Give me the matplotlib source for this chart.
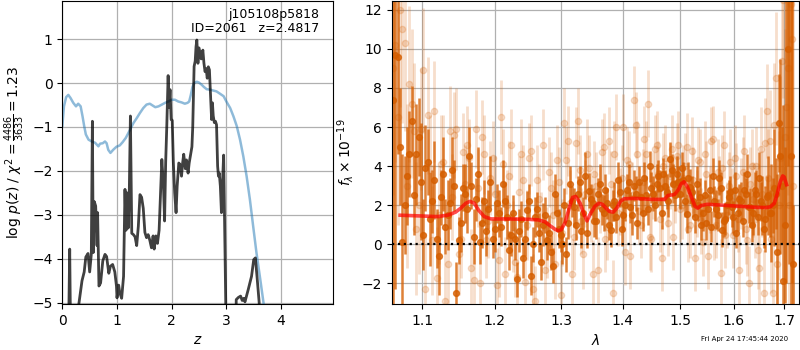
import numpy as np
import matplotlib
matplotlib.use("Agg")
import matplotlib.pyplot as plt
from matplotlib.ticker import NullLocator, FixedLocator, FixedFormatter

# ---------------- data: left panel (redshift PDF) ----------------
z_pdf = [0.00, 0.10, 0.115, 0.135, 0.15, 0.16, 0.28, 0.30, 0.36, 0.40, 0.43, 0.47,
         0.50, 0.53, 0.55, 0.565, 0.585, 0.61, 0.635, 0.645, 0.67, 0.70, 0.74, 0.78,
         0.81, 0.85, 0.88, 0.92, 0.96, 0.99, 1.00, 1.03, 1.05, 1.085, 1.12, 1.146,
         1.165, 1.185, 1.205, 1.225, 1.245, 1.27, 1.30, 1.33, 1.36, 1.39, 1.42, 1.45,
         1.48, 1.51, 1.54, 1.57, 1.60, 1.63, 1.66, 1.68, 1.71, 1.74, 1.77, 1.80, 1.82,
         1.85, 1.87, 1.89, 1.91, 1.935, 1.95, 1.97, 1.99, 2.01, 2.03, 2.055, 2.08,
         2.10, 2.13, 2.15, 2.18, 2.20, 2.22, 2.25, 2.27, 2.30, 2.32, 2.35, 2.37, 2.385,
         2.41, 2.43, 2.445, 2.46, 2.48, 2.50, 2.52, 2.54, 2.57, 2.59, 2.61, 2.63, 2.65,
         2.67, 2.69, 2.71, 2.73, 2.745, 2.76, 2.78, 2.80, 2.82, 2.84, 2.855, 2.87, 2.89,
         2.91, 2.93, 2.95, 2.965, 2.98, 3.00, 3.02, 3.16, 3.18, 3.22, 3.26, 3.29, 3.32,
         3.34, 3.40, 3.46, 3.50, 3.53, 3.56, 3.60, 3.62, 4.95]
logp_pdf = [-8, -8, -5.6, -3.78, -5.6, -8, -8, -5.05, -4.5, -4.3, -3.96, -3.88,
            -4.3, -3.9, -0.87, -3.86, -2.7, -2.8, -3.7, -2.95, -4.62, -4.55, -4.05, -3.9,
            -3.95, -4.33, -4.17, -4.13, -4.3, -4.62, -4.89, -4.6, -4.77, -4.9, -4.4, -2.42,
            -3.35, -2.5, -3.3, -2.45, -0.75, -3.42, -3.45, -3.5, -3.7, -3.26, -2.54, -2.6,
            -2.85, -3.4, -3.52, -3.45, -3.58, -3.75, -3.48, -3.78, -3.48, -3.65, -3.35,
            -2.35, -1.74, -2.35, -3.14, -1.8, -1.0, 0.17, -0.55, -0.15, -0.83, -0.85,
            -1.8, -2.5, -2.95, -2.35, -1.82, -1.85, -2.12, -1.82, -1.62, -1.95, -1.75,
            -2.05, -1.82, -1.6, -1.45, -1.0, 0.38, 0.5, 0.83, 0.98, 0.45, 0.8, 0.68,
            0.55, 0.75, 0.45, 0.26, 0.33, 0.11, 0.37, 0.3, -0.25, -0.83, -0.45, -0.75,
            -0.9, -0.87, -0.95, -1.89, -2.12, -2.05, -2.35, -2.95, -2.25, -1.64, -2.9,
            -4.2, -6.0, -8, -8, -4.93, -4.88, -4.85, -4.95, -4.9, -4.98, -4.7, -4.4,
            -4.02, -3.98, -4.4, -5.0, -8, -8]

z_chi = [0.00, 0.03, 0.07, 0.11, 0.15, 0.20, 0.25, 0.29, 0.335, 0.37, 0.40, 0.43,
         0.48, 0.54, 0.60, 0.66, 0.69, 0.74, 0.78, 0.81, 0.84, 0.88, 0.93, 0.99, 1.05,
         1.10, 1.16, 1.24, 1.30, 1.36, 1.42, 1.48, 1.54, 1.60, 1.65, 1.70, 1.76, 1.82,
         1.88, 1.94, 2.00, 2.06, 2.12, 2.18, 2.24, 2.29, 2.32, 2.35, 2.38, 2.41, 2.46,
         2.50, 2.55, 2.59, 2.64, 2.70, 2.76, 2.82, 2.88, 2.95, 3.00, 3.07, 3.13, 3.19,
         3.25, 3.31, 3.37, 3.43, 3.49, 3.55, 3.62, 3.68, 3.80]
logp_chi = [-0.98, -0.53, -0.32, -0.27, -0.34, -0.45, -0.53, -0.47, -0.53, -0.76,
            -0.98, -1.17, -1.29, -1.33, -1.36, -1.44, -1.38, -1.37, -1.33, -1.37, -1.52,
            -1.59, -1.52, -1.45, -1.42, -1.35, -1.25, -1.06, -0.91, -0.80, -0.68, -0.57,
            -0.49, -0.47, -0.51, -0.55, -0.53, -0.49, -0.45, -0.42, -0.38, -0.38, -0.42,
            -0.44, -0.47, -0.45, -0.42, -0.27, -0.09, 0.00, 0.03, 0.01, -0.04, -0.09,
            -0.14, -0.15, -0.17, -0.19, -0.24, -0.30, -0.42, -0.57, -0.76, -0.98, -1.29,
            -1.67, -2.12, -2.65, -3.26, -3.86, -4.47, -5.01, -6.2]

# ---------------- data: right panel (1D spectrum) ----------------
# spectral pixel grids (start, step, count)
dark_a_start, dark_a_step, n_dark_a = 1.062, 0.006, 110
dark_b_start, dark_b_step, n_dark_b = 1.065, 0.006, 110
light_a_start, light_a_step, n_light_a = 1.065, 0.006, 110
light_b_start, light_b_step, n_light_b = 1.062, 0.006, 110

dark_a_flux = [7.4, 9.6, 0.1, 3.5, 6.3, 4.6, 3.2, 3.9, 1.3, 3.3,
               -0.6, 3.6, 1.5, 3.8, -2.5, 1.1, 2.6, 4.5, 0.4, 3.6,
               1.1, 0.7, 3.2, 0.8, 1.6, 3.1, 1.4, 0.5, 0.3, 0.7,
               -0.7, 1.75, -1.6, 1.4, 0.6, 1.0, 0.2, -0.4, 2.6, 0.8,
               0.0, -0.5, 3.1, 1.9, 2.6, 0.7, 3.5, 2.75, 2.1, 1.2,
               3.1, 1.6, 2.1, 0.75, 2.2, 3.3, 0.8, 2.0, 3.2, 1.5,
               2.6, 3.2, 1.6, 2.5, 4.0, 2.6, 3.1, 2.9, 3.6, 2.7,
               4.35, 3.1, 3.6, 2.6, 3.3, 1.57, 2.95, 2.2, 3.1, 2.4,
               1.6, 1.1, 2.8, 3.5, 1.8, 3.4, 0.75, 1.3, 2.4, 1.9,
               2.8, 1.6, 2.2, 2.8, 3.6, 1.9, 1.6, 2.6, 3.4, 2.0,
               1.3, 2.5, 1.6, 2.9, -0.4, 4.5, -1.85, 14.0, 15.0, 14.0]
dark_a_err = [14, 5.0, 4.5, 2.5, 1.8, 2.6, 3.0, 2.2, 2.4, 2.0,
              2.0, 1.9, 1.8, 1.7, 1.6, 1.5, 1.5, 1.5, 1.4, 1.4,
              1.3, 1.3, 1.3, 1.2, 1.2, 1.2, 1.1, 1.1, 1.1, 1.1,
              1.0, 1.0, 1.0, 1.0, 1.0, 1.1, 1.0, 0.9, 1.0, 1.0,
              1.0, 0.9, 0.9, 1.0, 0.9, 0.9, 1.2, 0.9, 0.8, 0.9,
              1.0, 0.9, 0.8, 0.9, 1.0, 0.9, 0.9, 0.8, 0.9, 1.0,
              0.9, 0.8, 0.9, 1.0, 0.8, 0.9, 1.0, 0.9, 0.8, 0.9,
              0.9, 1.0, 0.9, 0.8, 0.9, 1.0, 0.9, 0.8, 0.9, 1.0,
              0.9, 0.9, 0.8, 0.9, 1.0, 0.9, 0.9, 0.8, 0.9, 1.0,
              0.9, 0.9, 1.0, 0.9, 1.0, 1.0, 1.1, 1.2, 1.3, 1.5,
              1.7, 2.0, 2.5, 3.0, 4.0, 5.0, 9.0, 16, 16, 16]

dark_b_flux = [9.7, 5.0, 2.0, 4.6, 2.5, 5.5, 0.5, 4.2, 2.2, 0.3,
               2.4, 0.9, 2.1, 3.0, 0.2, 2.9, 1.8, 3.0, 2.3, 0.1,
               2.2, 1.8, 0.3, 2.1, 0.9, 2.2, -0.3, 1.6, -1.78, 1.3,
               0.3, 2.2, 0.0, 1.8, -0.9, 1.5, 0.6, -1.1, 1.6, 0.5,
               2.0, 1.1, 2.2, 1.0, 3.2, 1.6, 0.6, 2.3, 1.2, 2.6,
               1.8, 2.8, 1.0, 2.0, 1.4, 2.7, 1.5, 2.8, 1.9, 3.0,
               1.1, 2.4, 3.4, 1.8, 2.9, 2.0, 3.5, 1.6, 3.0, 2.2,
               3.8, 2.5, 3.2, 3.9, 2.2, 3.4, 2.7, 1.4, 2.0, 1.0,
               2.5, 1.8, 0.9, 2.2, 1.5, 2.9, 1.2, 2.0, 2.7, 1.4,
               0.6, 2.3, 1.2, 2.6, 1.9, 1.0, 2.8, 1.4, 2.2, 0.8,
               2.4, 1.6, 2.0, 2.6, 6.2, 3.0, 1.0, 10.0, 4.5, -1.0]
dark_b_err = [12, 3.0, 2.5, 2.2, 2.0, 2.0, 1.8, 1.7, 1.6, 1.5,
              1.4, 1.4, 1.3, 1.3, 1.2, 1.2, 1.2, 1.2, 1.1, 1.1,
              1.1, 1.0, 1.0, 1.0, 1.0, 1.0, 1.0, 0.9, 0.9, 0.9,
              0.9, 0.9, 0.9, 0.9, 0.9, 0.9, 0.9, 0.9, 0.9, 0.9,
              0.9, 0.8, 0.8, 0.8, 0.8, 0.8, 0.8, 0.8, 0.8, 0.8,
              0.8, 0.8, 0.8, 0.8, 0.8, 0.8, 0.8, 0.8, 0.8, 0.8,
              0.8, 0.8, 0.8, 0.8, 0.8, 0.8, 0.8, 0.8, 0.8, 0.8,
              0.8, 0.8, 0.8, 0.8, 0.8, 0.8, 0.8, 0.8, 0.8, 0.8,
              0.8, 0.8, 0.8, 0.8, 0.8, 0.8, 0.8, 0.8, 0.8, 0.8,
              0.8, 0.8, 0.8, 0.8, 0.8, 0.9, 0.9, 0.9, 1.0, 1.0,
              1.1, 1.2, 1.4, 1.8, 2.5, 3.0, 4.0, 6.0, 8.0, 3.0]

light_a_flux = [10.2, 12.0, 10.3, 8.2, 5.8, 2.0, 8.9, 6.6, 0.2, -1.7,
                4.1, -2.9, 5.8, 5.6, -0.5, 4.7, 5.1, -1.2, 5.9, -2.0,
                4.6, 1.2, 4.4, -2.1, 6.5, -1.5, 3.5, 0.4, -1.65, 4.6,
                -1.9, 4.4, -2.3, 3.3, 0.9, -1.3, 3.7, 1.5, 4.3, -2.6,
                6.2, 5.3, -1.5, 5.2, 3.8, -0.5, 4.6, 1.8, 3.6, -1.3,
                4.7, 0.3, 5.3, -2.5, 6.0, 2.2, 6.0, 4.3, -0.6, 7.4,
                4.6, 1.0, 5.4, 7.2, 0.3, 4.9, 3.6, -0.7, 4.4, 1.1,
                4.9, 2.8, 5.1, 2.0, 4.0, 0.8, 4.8, -0.7, 4.3, 1.2,
                4.6, -0.6, 5.3, 0.9, 3.7, -1.45, 5.1, 1.5, 4.2, 0.5,
                3.5, -1.3, 3.7, 0.8, -2.0, 4.0, 1.3, -0.3, 4.9, -2.5,
                6.8, 5.3, -2.5, 8.5, 2.0, 9.4, 5.5, 9.0, 12.3, 3.0]
light_a_err = [6.0, 5.0, 4.5, 4.0, 3.5, 3.5, 3.2, 3.0, 2.8, 2.6,
               2.5, 2.4, 2.3, 2.2, 2.1, 2.0, 2.0, 2.0, 2.0, 2.0,
               2.0, 1.9, 1.9, 1.9, 1.9, 1.9, 1.8, 1.8, 1.8, 1.8,
               1.8, 1.8, 1.8, 1.8, 1.8, 1.8, 1.8, 1.8, 1.8, 1.8,
               1.8, 1.8, 1.8, 1.8, 1.8, 1.8, 1.8, 1.7, 1.7, 1.7,
               1.7, 1.7, 1.7, 1.7, 1.7, 1.7, 1.7, 1.7, 1.7, 1.7,
               1.7, 1.7, 1.7, 1.7, 1.7, 1.7, 1.7, 1.7, 1.7, 1.7,
               1.7, 1.7, 1.7, 1.7, 1.7, 1.7, 1.7, 1.7, 1.7, 1.7,
               1.7, 1.7, 1.7, 1.7, 1.7, 1.7, 1.7, 1.7, 1.7, 1.7,
               1.7, 1.8, 1.8, 1.8, 1.9, 1.9, 2.0, 2.0, 2.1, 2.2,
               2.4, 2.6, 3.0, 3.4, 3.8, 4.5, 5.5, 6.5, 8.0, 10.0]

light_b_flux = [9.0, 6.5, 11.0, 3.0, 7.2, 0.8, 5.9, -2.3, 3.9, 6.8,
                1.5, 4.2, -1.0, 2.4, 5.9, 0.3, 3.1, 4.4, -1.8, 2.9,
                5.5, 0.2, 3.4, 2.6, -0.8, 4.1, 2.0, 5.1, -0.9, 2.7,
                3.3, 1.0, 4.8, -2.9, 2.3, 5.1, 0.1, 2.9, -1.0, 3.2,
                0.6, 4.3, 2.1, 0.4, 6.3, 1.2, 2.6, 3.9, -1.5, 3.0,
                2.3, 5.0, 0.9, 3.1, 4.6, 1.6, 3.4, -0.4, 4.1, 2.5,
                6.1, 1.7, 3.2, 4.6, 0.4, 3.0, 5.1, 1.3, 4.0, 2.6,
                3.5, 0.4, 4.5, 1.8, 3.4, 5.0, 1.0, 3.3, 2.1, 4.2,
                0.1, 3.6, 2.3, 5.4, 1.0, 2.8, 3.9, 0.5, 3.0, 2.2,
                4.4, 1.3, 2.6, 4.8, 0.2, 3.1, 2.3, 4.0, -1.2, 2.6,
                5.2, 3.4, 0.3, 6.1, -1.0, 4.4, 12.5, 7.0, 2.0, 10.5]
light_b_err = [6.5, 5.5, 4.8, 4.2, 3.8, 3.4, 3.1, 2.9, 2.7, 2.6,
               2.5, 2.4, 2.3, 2.2, 2.1, 2.0, 2.0, 2.0, 2.0, 2.0,
               1.9, 1.9, 1.9, 1.9, 1.9, 1.8, 1.8, 1.8, 1.8, 1.8,
               1.8, 1.8, 1.8, 1.8, 1.8, 1.8, 1.8, 1.8, 1.8, 1.8,
               1.7, 1.7, 1.7, 1.7, 1.7, 1.7, 1.7, 1.7, 1.7, 1.7,
               1.7, 1.7, 1.7, 1.7, 1.7, 1.7, 1.7, 1.7, 1.7, 1.7,
               1.7, 1.7, 1.7, 1.7, 1.7, 1.7, 1.7, 1.7, 1.7, 1.7,
               1.7, 1.7, 1.7, 1.7, 1.7, 1.7, 1.7, 1.7, 1.7, 1.7,
               1.7, 1.7, 1.7, 1.7, 1.7, 1.7, 1.7, 1.7, 1.7, 1.7,
               1.7, 1.7, 1.8, 1.8, 1.8, 1.9, 1.9, 2.0, 2.1, 2.2,
               2.3, 2.5, 2.8, 3.2, 3.6, 4.2, 5.0, 6.0, 7.5, 9.0]

model_wave = [1.071, 1.10, 1.12, 1.135, 1.145, 1.152, 1.159, 1.165, 1.171, 1.177,
              1.185, 1.195, 1.22, 1.25, 1.265, 1.275, 1.283, 1.290, 1.295, 1.300,
              1.306, 1.313, 1.318, 1.323, 1.330, 1.336, 1.341, 1.347, 1.354, 1.360,
              1.366, 1.372, 1.378, 1.384, 1.390, 1.396, 1.402, 1.42, 1.45, 1.472,
              1.478, 1.490, 1.497, 1.502, 1.507, 1.513, 1.520, 1.527, 1.532, 1.538,
              1.55, 1.58, 1.61, 1.64, 1.662, 1.672, 1.680, 1.686, 1.692, 1.697,
              1.700, 1.703, 1.705]
model_flux = [1.49, 1.45, 1.42, 1.5, 1.65, 1.85, 2.1, 2.2, 2.1, 1.75,
              1.42, 1.3, 1.3, 1.28, 1.25, 1.15, 0.95, 0.78, 0.70, 0.75,
              1.1, 1.9, 2.4, 2.45, 2.1, 1.55, 1.2, 1.6, 1.95, 2.1,
              2.05, 1.85, 1.68, 1.65, 1.85, 2.2, 2.33, 2.35, 2.3, 2.3,
              2.5, 2.55, 2.8, 3.1, 3.2, 2.95, 2.45, 1.95, 1.85, 1.98,
              2.05, 2.0, 1.95, 1.9, 1.88, 1.92, 2.1, 2.6, 3.2, 3.5,
              3.45, 3.2, 3.05]

header_name = "j105108p5818"
header_id = "ID=2061   z=2.4817"
timestamp = "Fri Apr 24 17:45:44 2020"
wave_ticks = [1.1, 1.2, 1.3, 1.4, 1.5, 1.6, 1.7]
pz_ticks = [-5, -4, -3, -2, -1, 0, 1]
z_ticks = [0, 1, 2, 3, 4]
flux_ticks = [-2, 0, 2, 4, 6, 8, 10, 12]

# ---------------- figure ----------------
fig = plt.figure(figsize=(8, 3.5), dpi=100)

ax1 = fig.add_axes([0.0779, 0.1314, 0.3387, 0.866])
ax1.plot(z_chi, logp_chi, color='tab:blue', alpha=0.5, lw=1.8)
ax1.plot(z_pdf, logp_pdf, color='k', alpha=0.75, lw=2)
ax1.set_xlim(0, 4.955)
ax1.set_ylim(-5.03, 1.87)
ax1.set_xticks(z_ticks)
ax1.set_yticks(pz_ticks)
ax1.grid(True, color='#b0b0b0', lw=0.9)
ax1.set_xlabel(r'$z$')
ax1.set_ylabel(r'log $p(z)$ / $\chi^2=\frac{4486}{3633}=1.23$')
ax1.text(0.95, 0.975, header_name + "\n" + header_id, transform=ax1.transAxes,
         ha='right', va='top', fontsize=9, linespacing=1.1)

ax2 = fig.add_axes([0.49, 0.1314, 0.509, 0.866])
col = (0.8352941176470589, 0.3686274509803922, 0.0)


def grid(start, step, n):
    return start + step * np.arange(n)


for (s, st, n), fl, er in [((light_a_start, light_a_step, n_light_a), light_a_flux, light_a_err),
                           ((light_b_start, light_b_step, n_light_b), light_b_flux, light_b_err)]:
    ax2.errorbar(grid(s, st, n), fl, yerr=er, color=col, alpha=0.2, marker='o',
                 ms=4.5, ls='none', elinewidth=2.0, capsize=0)
for (s, st, n), fl, er in [((dark_a_start, dark_a_step, n_dark_a), dark_a_flux, dark_a_err),
                           ((dark_b_start, dark_b_step, n_dark_b), dark_b_flux, dark_b_err)]:
    ax2.errorbar(grid(s, st, n), fl, yerr=er, color=col, alpha=0.78, marker='o',
                 ms=4.2, ls='none', elinewidth=1.8, capsize=0)
ax2.plot(model_wave, model_flux, color='r', alpha=0.7, lw=2.6, zorder=5)
ax2.axhline(0, color='k', ls=':', lw=1.6, zorder=6)
ax2.set_xscale('log')
ax2.set_xlim(1.0606, 1.731)
ax2.set_ylim(-3.05, 12.45)
ax2.xaxis.set_major_locator(FixedLocator(wave_ticks))
ax2.xaxis.set_major_formatter(FixedFormatter([f"{w:.1f}" for w in wave_ticks]))
ax2.xaxis.set_minor_locator(NullLocator())
ax2.set_yticks(flux_ticks)
ax2.grid(True, color='#b0b0b0', lw=0.9)
ax2.set_xlabel(r'$\lambda$')
ax2.set_ylabel(r'$f_\lambda \times 10^{-19}$')

fig.text(0.985, 0.031, timestamp, ha='right', va='center', fontsize=5)

fig.savefig("out.png", dpi=100)
